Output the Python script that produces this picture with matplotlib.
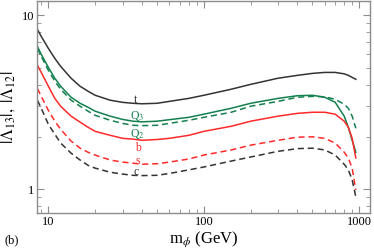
import matplotlib
matplotlib.use("Agg")
import matplotlib.pyplot as plt
from matplotlib.ticker import LogLocator, NullFormatter

plt.rcParams['font.family'] = ['Liberation Serif', 'DejaVu Serif']
plt.rcParams['mathtext.fontset'] = 'stix'

# m_phi (GeV)
m_phi = [8.5, 9, 10, 11, 12, 14, 16, 18, 20, 25, 30, 35, 40, 50, 60, 80, 100,
         150, 200, 300, 400, 500, 600, 700, 800, 850, 900, 950]

lam_t = [8.31, 7.57, 6.46, 5.66, 5.09, 4.35, 3.91, 3.66, 3.47, 3.25, 3.16, 3.12,
         3.10, 3.12, 3.20, 3.33, 3.47, 3.76, 4.01, 4.35, 4.52, 4.64, 4.70, 4.70,
         4.61, 4.52, 4.40, 4.29]
lam_Q3 = [6.63, 5.97, 5.02, 4.35, 3.91, 3.38, 3.12, 2.96, 2.81, 2.63, 2.52, 2.46,
          2.44, 2.46, 2.51, 2.59, 2.70, 2.92, 3.12, 3.33, 3.45, 3.47, 3.38, 3.16,
          2.63, 2.27, 1.91, 1.63]
lam_Q2 = [6.46, 5.81, 4.83, 4.18, 3.76, 3.25, 3.00, 2.81, 2.66, 2.49, 2.39, 2.33,
          2.32, 2.33, 2.39, 2.49, 2.59, 2.77, 3.00, 3.20, 3.38, 3.42, 3.40, 3.29,
          3.08, 2.92, 2.63, 2.24]
lam_b = [5.16, 4.70, 3.91, 3.33, 3.00, 2.63, 2.43, 2.27, 2.15, 2.04, 1.96, 1.94,
         1.91, 1.93, 1.96, 2.04, 2.15, 2.30, 2.46, 2.63, 2.73, 2.77, 2.77, 2.70,
         2.46, 2.27, 1.96, 1.51]
lam_s = [3.80, 3.42, 2.84, 2.46, 2.21, 1.89, 1.72, 1.63, 1.57, 1.47, 1.43, 1.41,
         1.39, 1.40, 1.43, 1.49, 1.57, 1.68, 1.79, 1.91, 1.99, 2.00, 1.96, 1.84,
         1.63, 1.51, 1.32, 0.987]
lam_c = [3.25, 2.92, 2.36, 2.07, 1.84, 1.61, 1.47, 1.37, 1.32, 1.25, 1.22, 1.20,
         1.196, 1.20, 1.23, 1.29, 1.34, 1.45, 1.53, 1.65, 1.71, 1.72, 1.68, 1.57,
         1.39, 1.29, 1.13, 0.90]

black = '#333333'
green = '#13804f'
red = '#ff2a2a'
dash = (4, 2.5)

fig = plt.figure(figsize=(3.74, 2.5), dpi=100)
ax = fig.add_axes([0.100, 0.148, 0.889, 0.850])

ax.plot(m_phi, lam_t, color=black, lw=1.1)
ax.plot(m_phi, lam_Q3, color=green, lw=1.1)
ax.plot(m_phi, lam_Q2, color=green, lw=1.1, ls='--', dashes=dash)
ax.plot(m_phi, lam_b, color=red, lw=1.1)
ax.plot(m_phi, lam_s, color=red, lw=1.1, ls='--', dashes=dash)
ax.plot(m_phi, lam_c, color=black, lw=1.1, ls='--', dashes=dash)

ax.set_xscale('log')
ax.set_yscale('log')
ax.set_xlim(8.5, 1170)
ax.set_ylim(0.728, 12.2)

ax.xaxis.set_minor_locator(LogLocator(base=10, subs=range(2, 10)))
ax.yaxis.set_minor_locator(LogLocator(base=10, subs=range(2, 10)))
ax.xaxis.set_minor_formatter(NullFormatter())
ax.yaxis.set_minor_formatter(NullFormatter())
ax.set_xticks([10, 100, 1000])
ax.set_xticklabels(['10', '100', '1000'])
ax.set_yticks([1, 10])
ax.set_yticklabels(['1', '10'])

for s in ax.spines.values():
    s.set_color('#8c8c8c')
    s.set_linewidth(1.0)
ax.tick_params(which='both', direction='in', top=True, right=True,
               color='#8c8c8c', labelsize=9, pad=2)
ax.tick_params(which='major', length=5)
ax.tick_params(which='minor', length=3)

ax.set_xlabel(r'm$_\phi$ (GeV)', fontsize=12, labelpad=1)
ax.set_ylabel(r'$|\Lambda_{13}|,\ |\Lambda_{12}|$', fontsize=12, labelpad=4)

# curve labels
lab = dict(fontsize=8.5, ha='center', va='baseline')
ax.text(36.5, 3.12, 't', color=black, **lab)
ax.text(37.5, 2.54, r'Q$_3$', color=green, **lab)
ax.text(37.5, 2.0, r'Q$_2$', color=green, **lab)
ax.text(37.5, 1.66, 'b', color=red, **lab)
ax.text(37.5, 1.39, 's', color=red, **lab)
ax.text(36.5, 1.21, 'c', color=black, **lab)

fig.text(0.032, 0.04, '(b)', fontsize=9, ha='center', va='center')

fig.savefig('out.png', dpi=100)
